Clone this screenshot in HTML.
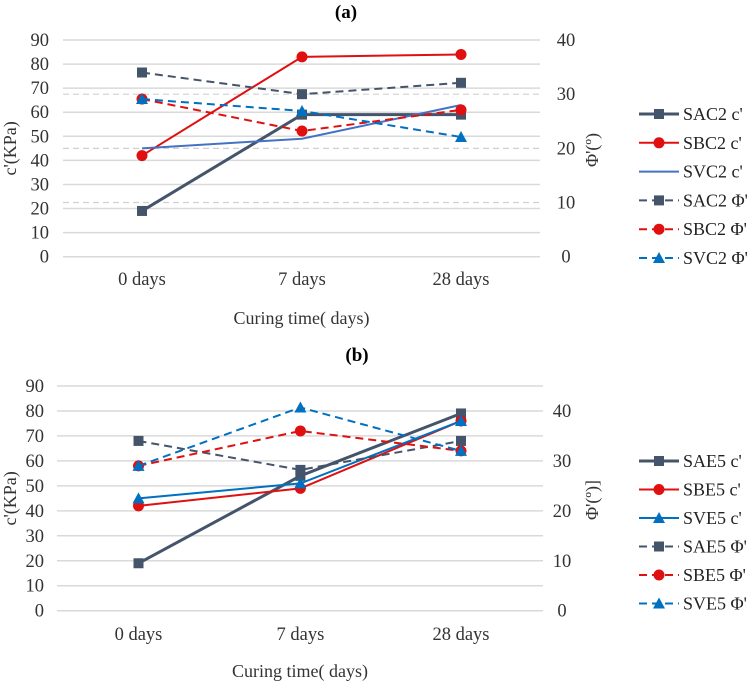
<!DOCTYPE html>
<html><head><meta charset="utf-8"><style>
body{margin:0;background:#fff;width:749px;height:682px;overflow:hidden}
svg{font-family:"Liberation Serif",serif}
</style></head><body>
<svg id="svg" width="749" height="682"></svg>
<script>
const categories=["0 days","7 days","28 days"];
const leftTicks=[0,10,20,30,40,50,60,70,80,90];
const rightTicksA=[0,10,20,30,40];
const rightTicksB=[0,10,20,30,40];
const sac2c=[19,59,59];
const sbc2c=[42,83,84];
const svc2c=[45,49,63];
const sac2phi=[34,30,32.1];
const sbc2phi=[29.1,23.2,27.1];
const svc2phi=[29.1,26.9,22.1];
const sae5c=[19,54,79];
const sbe5c=[42,49,76];
const sve5c=[45,51,76];
const sae5phi=[34,28.2,34];
const sbe5phi=[29,36,32];
const sve5phi=[29,40.7,32];
const NS="http://www.w3.org/2000/svg";
const svg=document.getElementById('svg');
function mk(tag,attrs,parent,text){const e=document.createElementNS(NS,tag);for(const k in attrs)e.setAttribute(k,attrs[k]);if(text!==undefined)e.textContent=text;(parent||svg).appendChild(e);return e;}
const DARK="#44546a",RED="#e01010",BLUE1="#4472c4",BLUE2="#0070c0";
function marker(g,type,x,y,color){
  if(type==="sq")return mk('rect',{x:x-5,y:y-5,width:10,height:10,fill:color},g);
  if(type==="ci")return mk('circle',{cx:x,cy:y,r:5.5,fill:color},g);
  if(type==="tr")return mk('polygon',{points:`${x},${y-6} ${x+6},${y+5} ${x-6},${y+5}`,fill:color},g);
}
function chart(cfg){
  const g=mk('g',{});
  
  
  const yL=v=>cfg.y0+(cfg.y90-cfg.y0)*v/90;
  const yR=v=>cfg.y0+(cfg.y90-cfg.y0)*v/cfg.rmax;
  const xC=i=>cfg.cx[i];
  leftTicks.forEach(v=>{
    const l=mk('line',{x1:cfg.px0,x2:cfg.px1,y1:yL(v),y2:yL(v),stroke:"#d9d9d9","stroke-width":1.5},g);
    
    const t=mk('text',{x:cfg.lx,y:yL(v)+6,"text-anchor":"end","font-size":18.5,fill:"#333"},g,v);
    
  });
  cfg.rticks.forEach(v=>{
    if(cfg.rgrid&&v>0&&v<cfg.rmax-1){const l=mk('line',{x1:cfg.px0,x2:cfg.px1,y1:yR(v),y2:yR(v),stroke:"#d0d0d0","stroke-width":1.2,"stroke-dasharray":"6 4"},g);
      }
    const t=mk('text',{x:cfg.rx,y:yR(v)+6,"text-anchor":"middle","font-size":18.5,fill:"#333"},g,v);
    
  });
  categories.forEach((c,i)=>{const t=mk('text',{x:xC(i),y:cfg.xly,"text-anchor":"middle","font-size":18.5,fill:"#333"},g,c);
    });
  let t=mk('text',{x:cfg.titleX,y:cfg.titleY,"text-anchor":"middle","font-size":19,"font-weight":"bold",fill:"#000"},g,cfg.title);
  
  t=mk('text',{x:(cfg.px0+cfg.px1)/2,y:cfg.xty,"text-anchor":"middle","font-size":18,fill:"#333"},g,"Curing time( days)");
  
  t=mk('text',{x:0,y:0,"text-anchor":"middle","font-size":18,fill:"#333",transform:`translate(${cfg.ltx},${(cfg.y0+cfg.y90)/2}) rotate(-90)`},g,"c'(KPa)");
  
  t=mk('text',{x:0,y:0,"text-anchor":"middle","font-size":18,fill:"#333",transform:`translate(${cfg.rtx},${cfg.rty}) rotate(-90)`},g,cfg.rtitle);
  
  cfg.series.forEach((s,k)=>{
    const f=s.axis==="L"?yL:yR;
    const sg=mk('g',{},g);
    
    
    const pts=s.data.map((v,i)=>xC(i)+","+f(v)).join(" ");
    const pl=mk('polyline',{points:pts,fill:"none",stroke:s.color,"stroke-width":s.w,"stroke-dasharray":s.dash?"8 5":"none"},sg);
    
    if(s.mk)s.data.forEach((v,i)=>{const m=marker(sg,s.mk,xC(i),f(v),s.color);
      });
    const ly=cfg.legY+k*cfg.legDy;
    const lg=mk('g',{},g);
    
    mk('line',{x1:639,x2:679,y1:ly,y2:ly,stroke:s.color,"stroke-width":s.w,"stroke-dasharray":s.dash?"8 5":"none"},lg);
    if(s.mk)marker(lg,s.mk,659,ly,s.color);
    mk('text',{x:683,y:ly+6,"font-size":18,fill:"#222"},lg,s.label);
  });
}
chart({name:"chart-a",title:"(a)",titleX:346,titleY:18,px0:63,px1:540,cx:[142,302,461],y0:256.7,y90:40,rmax:40,rticks:rightTicksA,rgrid:true,
  lx:49,rx:566,xly:285,xty:324,ltx:16,rtx:598,rty:150,rtitle:"Φ'(º)",legY:114,legDy:28.8,
  series:[
   {label:"SAC2 c'",data:sac2c,axis:"L",color:DARK,w:3,mk:"sq"},
   {label:"SBC2 c'",data:sbc2c,axis:"L",color:RED,w:2,mk:"ci"},
   {label:"SVC2 c'",data:svc2c,axis:"L",color:BLUE1,w:2},
   {label:"SAC2 Φ'",data:sac2phi,axis:"R",color:DARK,w:2,mk:"sq",dash:true},
   {label:"SBC2 Φ'",data:sbc2phi,axis:"R",color:RED,w:2,mk:"ci",dash:true},
   {label:"SVC2 Φ'",data:svc2phi,axis:"R",color:BLUE2,w:2,mk:"tr",dash:true}]});
chart({name:"chart-b",title:"(b)",titleX:357,titleY:361,px0:57,px1:543,cx:[138.5,300.4,461],y0:610.7,y90:386,rmax:45,rticks:rightTicksB,rgrid:false,
  lx:44,rx:562,xly:640,xty:677,ltx:16,rtx:598,rty:500,rtitle:"Φ'(º)]",legY:461,legDy:28.5,
  series:[
   {label:"SAE5 c'",data:sae5c,axis:"L",color:DARK,w:3,mk:"sq"},
   {label:"SBE5 c'",data:sbe5c,axis:"L",color:RED,w:2,mk:"ci"},
   {label:"SVE5 c'",data:sve5c,axis:"L",color:BLUE2,w:2,mk:"tr"},
   {label:"SAE5 Φ'",data:sae5phi,axis:"R",color:DARK,w:2,mk:"sq",dash:true},
   {label:"SBE5 Φ'",data:sbe5phi,axis:"R",color:RED,w:2,mk:"ci",dash:true},
   {label:"SVE5 Φ'",data:sve5phi,axis:"R",color:BLUE2,w:2,mk:"tr",dash:true}]});
</script>
</body></html>
